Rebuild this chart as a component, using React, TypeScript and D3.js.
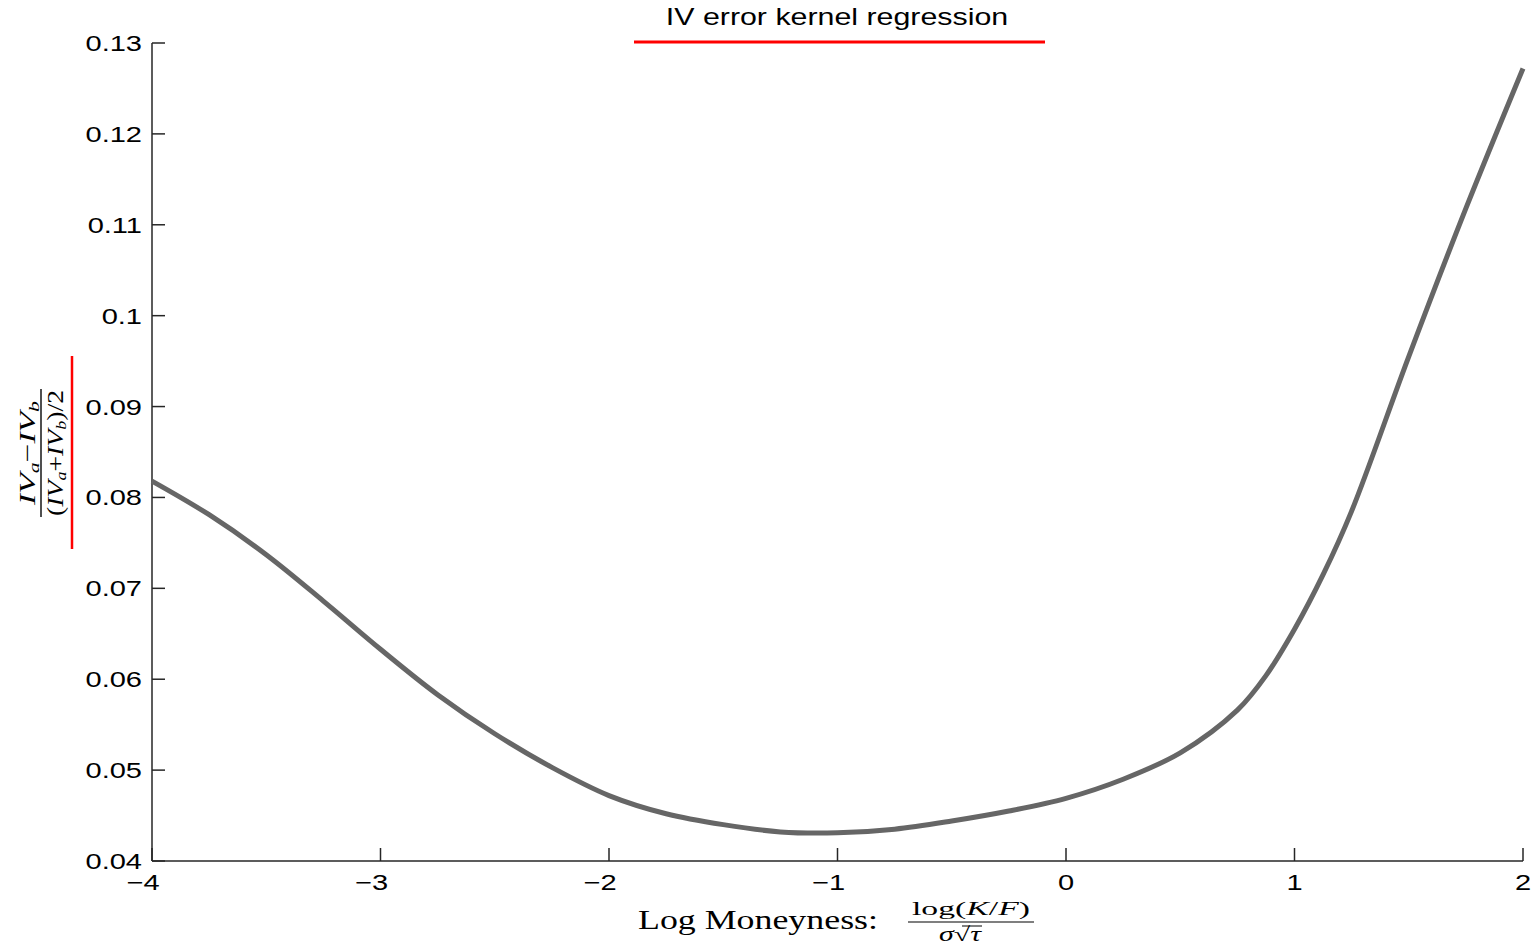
import React from 'react';
import * as d3 from 'd3';

// kernel regression curve
const moneyness = [-4, -3.75, -3.5, -3.25, -3, -2.75, -2.5, -2.25, -2, -1.75, -1.5, -1.25, -1, -0.75, -0.5, -0.25, 0, 0.25, 0.5, 0.75, 0.875, 1, 1.125, 1.25, 1.5, 1.75, 2];
const ivError = [0.0818, 0.0781, 0.0737, 0.0686, 0.0633, 0.0583, 0.0540, 0.0503, 0.0472, 0.0452, 0.0440, 0.0432, 0.0431, 0.0435, 0.0444, 0.0455, 0.0469, 0.0490, 0.0519, 0.0566, 0.0604, 0.0655, 0.0715, 0.0785, 0.0955, 0.1118, 0.1272];

const xTicks = [-4, -3, -2, -1, 0, 1, 2];
const xTickLabels = ['\u22124', '\u22123', '\u22122', '\u22121', '0', '1', '2'];
const yTicks = [0.04, 0.05, 0.06, 0.07, 0.08, 0.09, 0.1, 0.11, 0.12, 0.13];
const yTickLabels = ['0.04', '0.05', '0.06', '0.07', '0.08', '0.09', '0.1', '0.11', '0.12', '0.13'];

const W = 1537;
const H = 946;
const left = 152, right = 1523, top = 43, bottom = 861;
const SX = 1.32; // the figure is stretched sideways
const sans = 'Liberation Sans, Arial, sans-serif';
const serif = 'Liberation Serif, Times New Roman, serif';
const axisColor = '#262626';

export default function App() {
  const x = d3.scaleLinear().domain([-4, 2]).range([left, right]);
  const y = d3.scaleLinear().domain([0.04, 0.13]).range([bottom, top]);

  const pts = moneyness.map((m, i) => [m, ivError[i]] as [number, number]);
  const line = d3.line<[number, number]>()
    .x(d => x(d[0]))
    .y(d => y(d[1]))
    .curve(d3.curveCatmullRom.alpha(0.5));

  const tickLen = 13;

  return (
    <svg width={W} height={H} style={{ position: 'absolute', left: 0, top: 0, background: '#fff' }}>
      {/* title */}
      <text transform={`translate(837 25) scale(${SX} 1)`} textAnchor="middle"
        fontFamily={sans} fontSize={23} fill="#000">IV error kernel regression</text>
      <line x1={634} x2={1045} y1={42} y2={42} stroke="#f00" strokeWidth={3} />

      {/* axes */}
      <line x1={left} x2={left} y1={top} y2={bottom} stroke={axisColor} strokeWidth={1.5} />
      <line x1={left} x2={right} y1={bottom} y2={bottom} stroke={axisColor} strokeWidth={1.5} />
      {yTicks.map((t, i) => (
        <g key={'y' + i}>
          <line x1={left} x2={left + tickLen} y1={y(t)} y2={y(t)} stroke={axisColor} strokeWidth={1.5} />
          <text transform={`translate(142 ${y(t) + 8}) scale(${SX} 1)`} textAnchor="end"
            fontFamily={sans} fontSize={22} fill="#000">{yTickLabels[i]}</text>
        </g>
      ))}
      {xTicks.map((t, i) => (
        <g key={'x' + i}>
          <line x1={x(t)} x2={x(t)} y1={bottom} y2={bottom - tickLen} stroke={axisColor} strokeWidth={1.5} />
          <text transform={`translate(${x(t) - (t < 0 ? 9 : 0)} 890) scale(${SX} 1)`} textAnchor="middle"
            fontFamily={sans} fontSize={22} fill="#000">{xTickLabels[i]}</text>
        </g>
      ))}

      {/* curve */}
      <path d={line(pts) || ''} fill="none" stroke="#666" strokeWidth={5} strokeLinejoin="round" />

      {/* x label */}
      <text x={638} y={929} fontFamily={serif} fontSize={27} textLength={240} lengthAdjust="spacingAndGlyphs" fill="#000">Log Moneyness:</text>
      <text x={971} y={915} textAnchor="middle" fontFamily={serif} fontSize={18} textLength={118} lengthAdjust="spacingAndGlyphs" fill="#000">
        log(<tspan fontStyle="italic">K</tspan>/<tspan fontStyle="italic">F</tspan>)
      </text>
      <line x1={908} x2={1034} y1={922} y2={922} stroke="#000" strokeWidth={1.2} />
      <text x={960} y={941} textAnchor="middle" fontFamily={serif} fontSize={20} fill="#000" textLength={42} lengthAdjust="spacingAndGlyphs">
        <tspan fontStyle="italic">{'\u03c3'}</tspan>{'\u221a'}<tspan fontStyle="italic">{'\u03c4'}</tspan>
      </text>
      <line x1={962} x2={982} y1={926} y2={926} stroke="#000" strokeWidth={1} />

      {/* y label */}
      <g transform="translate(41 453) rotate(-90) scale(1 1.15)">
        <text x={0} y={-5} textAnchor="middle" fontFamily={serif} fontSize={20} fontStyle="italic" textLength={104} lengthAdjust="spacingAndGlyphs" fill="#000">
          IV<tspan fontSize={13} dy={3}>a</tspan><tspan dy={-3} fontStyle="normal">{'\u2212'}</tspan>IV<tspan fontSize={13} dy={3}>b</tspan>
        </text>
        <line x1={-64} x2={64} y1={0} y2={0} stroke="#000" strokeWidth={1.2} />
        <text x={0} y={19} textAnchor="middle" fontFamily={serif} fontSize={20} fontStyle="italic" textLength={126} lengthAdjust="spacingAndGlyphs" fill="#000">
          <tspan fontStyle="normal">(</tspan>IV<tspan fontSize={13} dy={3}>a</tspan><tspan dy={-3} fontStyle="normal">+</tspan>IV<tspan fontSize={13} dy={3}>b</tspan><tspan dy={-3} fontStyle="normal">)/2</tspan>
        </text>
      </g>
      <line x1={72} x2={72} y1={356} y2={549} stroke="#f00" strokeWidth={2.5} />
    </svg>
  );
}
